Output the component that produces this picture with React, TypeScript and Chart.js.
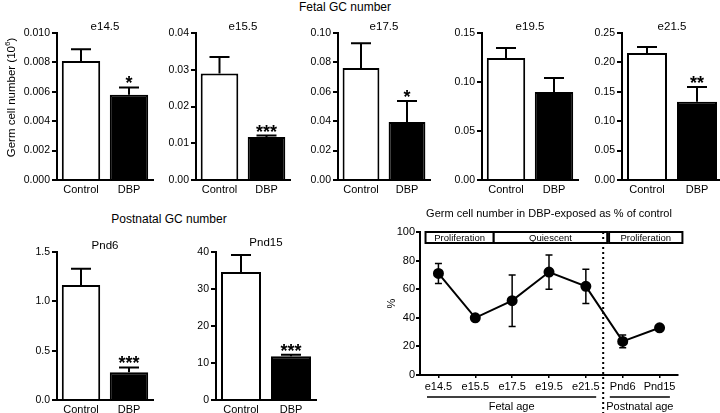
import React, { useEffect, useRef } from "react";
import { Chart, registerables } from "chart.js";

Chart.register(...registerables);

const FONT = "'Liberation Sans', Arial, Helvetica, sans-serif";
Chart.defaults.font.family = FONT;
Chart.defaults.color = "#000";

// ---------------- data ----------------
const groups = ["Control", "DBP"];

const fetalStages = ["e14.5", "e15.5", "e17.5", "e19.5", "e21.5"];
const fetalControl = [0.0081, 0.029, 0.0762, 0.1245, 0.216];
const fetalControlErr = [0.0008, 0.0045, 0.0168, 0.0102, 0.01];
const fetalDBP = [0.0058, 0.0117, 0.0395, 0.0898, 0.133];
const fetalDBPErr = [0.0005, 0.0004, 0.0142, 0.0143, 0.025];
const fetalStars = ["*", "***", "*", "", "**"];
const fetalYMax = [0.01, 0.04, 0.1, 0.15, 0.25];
const fetalYStep = [0.002, 0.01, 0.02, 0.05, 0.05];
const fetalDecimals = [3, 2, 2, 2, 2];

const postStages = ["Pnd6", "Pnd15"];
const postControl = [1.166, 34.6];
const postControlErr = [0.164, 4.6];
const postDBP = [0.28, 11.8];
const postDBPErr = [0.05, 0.4];
const postStars = ["***", "***"];
const postYMax = [1.5, 40];
const postYStep = [0.5, 10];
const postDecimals = [1, 0];

const ageLabels = ["e14.5", "e15.5", "e17.5", "e19.5", "e21.5", "Pnd6", "Pnd15"];
const pctValues = [71, 40, 52, 72, 62, 23.5, 33];
const pctErr = [7, 0, 18, 12, 12, 4.5, 0];
const pctYMax = 100;
const pctYStep = 20;
const phaseLabels = ["Proliferation", "Quiescent", "Proliferation"];
const ageGroupLabels = ["Fetal age", "Postnatal age"];

// ---------------- layout ----------------
const topAxisX = [57, 196, 338, 482, 622];
const topPlotW = [96, 94, 92, 96, 100];
const topTitleOffset = [6, 6, 6, 6, 6];
const topChartTop = 33;
const topChartBottom = 180;
const botAxisX = [57, 216];
const botPlotW = [96, 100];
const botTitleOffset = [6, 9];
const botChartTop = 252;
const botChartBottom = 400;
const PAD_TOP = 18;
const PAD_RIGHT = 4;
const X_H = 22;
const WY = 50;

// phase boxes / separators in category-index units
const phaseSpans = [[-0.35, 1.5], [1.5, 4.58], [4.63, 6.62]];
const separatorAt = 4.47;
const ageGroupSpans = [[-0.31, 4.28], [4.65, 6.28]];

type BarPanel = {
  title: string;
  control: number;
  controlErr: number;
  dbp: number;
  dbpErr: number;
  star: string;
  yMax: number;
  yStep: number;
  decimals: number;
  axisX: number;
  plotW: number;
  top: number;
  bottom: number;
  titleOffset: number;
  yTitle?: boolean;
};

const panels: BarPanel[] = [
  ...fetalStages.map((t, i) => ({
    title: t,
    control: fetalControl[i],
    controlErr: fetalControlErr[i],
    dbp: fetalDBP[i],
    dbpErr: fetalDBPErr[i],
    star: fetalStars[i],
    yMax: fetalYMax[i],
    yStep: fetalYStep[i],
    decimals: fetalDecimals[i],
    axisX: topAxisX[i],
    plotW: topPlotW[i],
    top: topChartTop,
    bottom: topChartBottom,
    titleOffset: topTitleOffset[i],
    yTitle: i === 0,
  })),
  ...postStages.map((t, i) => ({
    title: t,
    control: postControl[i],
    controlErr: postControlErr[i],
    dbp: postDBP[i],
    dbpErr: postDBPErr[i],
    star: postStars[i],
    yMax: postYMax[i],
    yStep: postYStep[i],
    decimals: postDecimals[i],
    axisX: botAxisX[i],
    plotW: botPlotW[i],
    top: botChartTop,
    bottom: botChartBottom,
    titleOffset: botTitleOffset[i],
  })),
];

function barDecor(p: BarPanel) {
  return {
    id: "barDecor",
    afterDatasetsDraw(chart: any) {
      const ctx = chart.ctx;
      const y = chart.scales.y;
      const meta = chart.getDatasetMeta(0);
      const vals = [p.control, p.dbp];
      const errs = [p.controlErr, p.dbpErr];
      const stars = ["", p.star];
      ctx.save();
      ctx.strokeStyle = "#000";
      ctx.fillStyle = "#000";
      ctx.lineWidth = 2;
      meta.data.forEach((el: any, i: number) => {
        const yv = y.getPixelForValue(vals[i]);
        const ye = y.getPixelForValue(vals[i] + errs[i]);
        ctx.beginPath();
        ctx.moveTo(el.x, yv);
        ctx.lineTo(el.x, ye);
        ctx.moveTo(el.x - 10, ye);
        ctx.lineTo(el.x + 10, ye);
        ctx.stroke();
        if (stars[i]) {
          ctx.font = `bold 18px ${FONT}`;
          ctx.textAlign = "center";
          ctx.textBaseline = "alphabetic";
          ctx.fillText(stars[i], el.x, ye + 2);
        }
      });
      const ca = chart.chartArea;
      ctx.font = `11.5px ${FONT}`;
      ctx.textAlign = "center";
      ctx.textBaseline = "middle";
      ctx.fillText(p.title, (ca.left + ca.right) / 2, ca.top - p.titleOffset);
      if (p.yTitle) {
        ctx.translate(ca.left - 45, (ca.top + ca.bottom) / 2 - 9);
        ctx.rotate(-Math.PI / 2);
        const big = `11.5px ${FONT}`;
        const small = `8px ${FONT}`;
        const s1 = "Germ cell number (10";
        const s2 = "6";
        const s3 = ")";
        ctx.font = big;
        const w1 = ctx.measureText(s1).width;
        const w3 = ctx.measureText(s3).width;
        ctx.font = small;
        const w2 = ctx.measureText(s2).width;
        let x0 = -(w1 + w2 + w3) / 2;
        ctx.textAlign = "left";
        ctx.textBaseline = "middle";
        ctx.font = big;
        ctx.fillText(s1, x0, 0);
        ctx.font = small;
        ctx.fillText(s2, x0 + w1, -4);
        ctx.font = big;
        ctx.fillText(s3, x0 + w1 + w2, 0);
      }
      ctx.restore();
    },
  };
}

function barConfig(p: BarPanel, wy: number): any {
  return {
    type: "bar",
    data: {
      labels: groups,
      datasets: [
        {
          data: [p.control, p.dbp],
          backgroundColor: ["#ffffff", "#000000"],
          borderColor: "#000",
          borderWidth: 2,
          barPercentage: 0.8,
          categoryPercentage: 1,
        },
      ],
    },
    options: {
      animation: false,
      responsive: false,
      maintainAspectRatio: false,
      events: [],
      layout: { padding: { top: PAD_TOP, right: PAD_RIGHT, left: 0, bottom: 0 } },
      plugins: { legend: { display: false }, tooltip: { enabled: false }, title: { display: false } },
      scales: {
        x: {
          grid: { display: false, drawTicks: false },
          border: { display: true, color: "#000", width: 2 },
          ticks: { color: "#000", font: { size: 11, family: FONT }, padding: 3 },
          afterFit: (s: any) => {
            s.height = X_H;
          },
        },
        y: {
          min: 0,
          max: p.yMax,
          ticks: {
            stepSize: p.yStep,
            color: "#000",
            font: { size: 10.5, family: FONT },
            padding: 2,
            callback: (v: any) => Number(v).toFixed(p.decimals),
          },
          grid: { drawOnChartArea: false, drawTicks: true, tickLength: 5, color: "#000", lineWidth: 2 },
          border: { display: true, color: "#000", width: 2 },
          afterFit: (s: any) => {
            s.width = wy;
          },
        },
      },
    },
    plugins: [barDecor(p)],
  };
}

const lineDecor = {
  id: "lineDecor",
  beforeDatasetsDraw(chart: any) {
    const ctx = chart.ctx;
    const x = chart.scales.x;
    const y = chart.scales.y;
    ctx.save();
    ctx.strokeStyle = "#000";
    ctx.lineWidth = 1.5;
    pctValues.forEach((v, i) => {
      const e = pctErr[i];
      if (!e) return;
      const px = x.getPixelForValue(i);
      const yt = y.getPixelForValue(v + e);
      const yb = y.getPixelForValue(v - e);
      ctx.beginPath();
      ctx.moveTo(px, yt);
      ctx.lineTo(px, yb);
      ctx.moveTo(px - 3.5, yt);
      ctx.lineTo(px + 3.5, yt);
      ctx.moveTo(px - 3.5, yb);
      ctx.lineTo(px + 3.5, yb);
      ctx.stroke();
    });
    ctx.restore();
  },
  afterDraw(chart: any) {
    const ctx = chart.ctx;
    const x = chart.scales.x;
    const y = chart.scales.y;
    const ca = chart.chartArea;
    ctx.save();
    // phase boxes
    const bTop = y.getPixelForValue(pctYMax);
    const bH = 11;
    ctx.lineWidth = 2;
    ctx.strokeStyle = "#000";
    phaseSpans.forEach((s, i) => {
      const x1 = x.getPixelForValue(s[0]);
      const x2 = x.getPixelForValue(s[1]);
      ctx.fillStyle = "#fff";
      ctx.fillRect(x1, bTop, x2 - x1, bH);
      ctx.strokeRect(x1, bTop, x2 - x1, bH);
      ctx.fillStyle = "#000";
      ctx.font = `9.5px ${FONT}`;
      ctx.textAlign = "center";
      ctx.textBaseline = "middle";
      ctx.fillText(phaseLabels[i], (x1 + x2) / 2, bTop + bH / 2 + 0.5);
    });
    // separator
    const sx = x.getPixelForValue(separatorAt);
    ctx.setLineDash([2, 3]);
    ctx.lineWidth = 2;
    ctx.beginPath();
    ctx.moveTo(sx, bTop);
    ctx.lineTo(sx, chart.height);
    ctx.stroke();
    ctx.setLineDash([]);
    // age group underlines
    const uy = ca.bottom + 22;
    ctx.lineWidth = 1.5;
    ageGroupSpans.forEach((s, i) => {
      const x1 = x.getPixelForValue(s[0]);
      const x2 = x.getPixelForValue(s[1]);
      ctx.beginPath();
      ctx.moveTo(x1, uy);
      ctx.lineTo(x2, uy);
      ctx.stroke();
      ctx.font = `11px ${FONT}`;
      ctx.textAlign = "center";
      ctx.textBaseline = "middle";
      ctx.fillText(ageGroupLabels[i], (x1 + x2) / 2, uy + 10);
    });
    // title
    ctx.font = `11px ${FONT}`;
    ctx.fillText("Germ cell number in DBP-exposed as % of control", (ca.left + ca.right) / 2, ca.top - 18);
    // y title
    ctx.translate(ca.left - 28, (ca.top + ca.bottom) / 2);
    ctx.rotate(-Math.PI / 2);
    ctx.font = `11px ${FONT}`;
    ctx.fillText("%", 0, 0);
    ctx.restore();
  },
};

function lineConfig(): any {
  return {
    type: "line",
    data: {
      labels: ageLabels,
      datasets: [
        {
          data: pctValues,
          borderColor: "#000",
          borderWidth: 2,
          pointRadius: 4.5,
          pointBackgroundColor: "#000",
          pointBorderColor: "#000",
          tension: 0,
          clip: false,
        },
      ],
    },
    options: {
      animation: false,
      responsive: false,
      maintainAspectRatio: false,
      events: [],
      layout: { padding: { top: 32, right: 10, left: 0, bottom: 0 } },
      plugins: { legend: { display: false }, tooltip: { enabled: false } },
      scales: {
        x: {
          offset: true,
          grid: { display: true, drawOnChartArea: false, drawTicks: true, tickLength: 3, color: "#000", lineWidth: 1.5, offset: false },
          border: { display: true, color: "#000", width: 2 },
          ticks: { color: "#000", font: { size: 11, family: FONT }, padding: 2, autoSkip: false, maxRotation: 0 },
          afterFit: (s: any) => {
            s.height = 38;
          },
        },
        y: {
          min: 0,
          max: pctYMax,
          ticks: { stepSize: pctYStep, color: "#000", font: { size: 11, family: FONT }, padding: 1 },
          grid: { drawOnChartArea: false, drawTicks: true, tickLength: 4, color: "#000", lineWidth: 2 },
          border: { display: true, color: "#000", width: 2 },
          afterFit: (s: any) => {
            s.width = 40;
          },
        },
      },
    },
    plugins: [lineDecor],
  };
}

function ChartCanvas(props: { left: number; top: number; width: number; height: number; make: () => any }) {
  const ref = useRef<HTMLCanvasElement | null>(null);
  useEffect(() => {
    if (!ref.current) return;
    const chart = new Chart(ref.current, props.make());
    return () => chart.destroy();
  }, []);
  return (
    <canvas
      ref={ref}
      width={props.width}
      height={props.height}
      style={{ position: "absolute", left: props.left, top: props.top, width: props.width, height: props.height }}
    />
  );
}

const headingStyle: React.CSSProperties = {
  position: "absolute",
  fontFamily: FONT,
  fontSize: 12,
  lineHeight: "14px",
  color: "#000",
  textAlign: "center",
  width: 240,
  whiteSpace: "nowrap",
};

export default function App() {
  useEffect(() => {
    document.body.style.margin = "0";
    document.body.style.overflow = "hidden";
  }, []);
  return (
    <div style={{ position: "absolute", left: 0, top: 0, width: 720, height: 413, overflow: "hidden", background: "#fff" }}>
      <div style={{ ...headingStyle, left: 345 - 120, top: 0 }}>Fetal GC number</div>
      <div style={{ ...headingStyle, left: 169 - 120, top: 212 }}>Postnatal GC number</div>
      {panels.map((p, i) => {
        const wy = p.yTitle ? p.axisX : WY;
        const left = p.axisX - wy;
        const top = p.top - PAD_TOP;
        const width = wy + p.plotW + PAD_RIGHT;
        const height = PAD_TOP + (p.bottom - p.top) + X_H;
        return <ChartCanvas key={i} left={left} top={top} width={width} height={height} make={() => barConfig(p, wy)} />;
      })}
      <ChartCanvas left={380} top={200} width={308} height={213} make={lineConfig} />
    </div>
  );
}
